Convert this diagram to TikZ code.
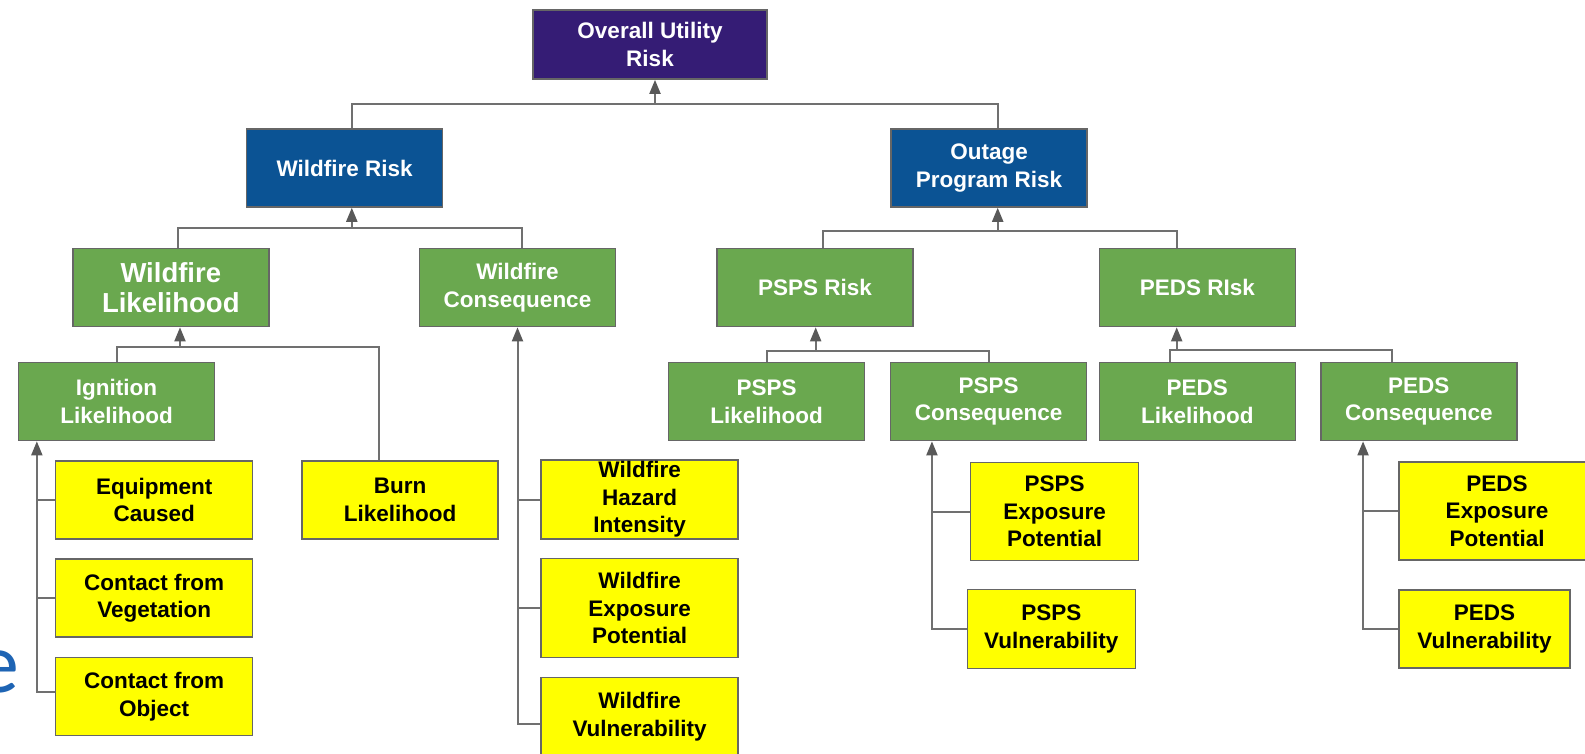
\documentclass[tikz,border=0pt]{standalone}
\usepackage{xcolor}
\usepackage{fontspec}
\setmainfont{Liberation Sans}
\newfontfamily\slidefont{Carlito}
\usepackage{tikz}
\usetikzlibrary{arrows.meta}
\definecolor{topcolor}{HTML}{351C75}
\definecolor{riskcolor}{HTML}{0B5394}
\definecolor{partcolor}{HTML}{6AA84F}
\definecolor{leafcolor}{HTML}{FFFF00}
\definecolor{edgecolor}{HTML}{666666}
\definecolor{linkcolor}{HTML}{707070}
\definecolor{tipcolor}{HTML}{595959}
\definecolor{slidecolor}{HTML}{1E64B4}
\tikzset{
  riskbox/.style={draw=edgecolor, line width=1.5pt, rectangle, minimum width=196pt, minimum height=78pt, inner sep=0pt, align=center, font=\fontsize{22.5}{27.5}\selectfont\bfseries},
  topbox/.style={riskbox, fill=topcolor, text=white},
  mainbox/.style={riskbox, fill=riskcolor, text=white},
  partbox/.style={riskbox, fill=partcolor, text=white},
  leafbox/.style={riskbox, fill=leafcolor, text=black},
  link/.style={draw=linkcolor, line width=2pt},
  uplink/.style={link, -{Triangle[length=14pt, width=11pt, color=tipcolor]}},
}

\begin{document}
\begin{tikzpicture}[x=1pt, y=-1pt]%
\fill[white] (0,0) rectangle (1585,753);%
\useasboundingbox (0,0) rectangle (1585,753);%
\node[font=\slidefont\fontsize{86}{86}\selectfont, text=slidecolor, anchor=base east, inner sep=0pt] (slidetail) at (19.5,692) {e};%
\node[topbox, minimum width=234pt, minimum height=69pt] (overall) at (650,44.6) {Overall Utility\\Risk};%
\node[mainbox] (wrisk) at (344.6,168) {Wildfire Risk};%
\node[mainbox] (outage) at (989,168) {Outage\\Program Risk};%
\node[partbox, font=\fontsize{27.5}{30}\selectfont\bfseries] (wlike) at (170.8,287.6) {Wildfire\\Likelihood};%
\node[partbox] (wcons) at (517.5,287.6) {Wildfire\\Consequence};%
\node[partbox] (pspsrisk) at (815,287.6) {PSPS Risk};%
\node[partbox] (pedsrisk) at (1197.3,287.6) {PEDS RIsk};%
\node[partbox] (ign) at (116.6,401.6) {Ignition\\Likelihood};%
\node[partbox] (pspslike) at (766.6,401.6) {PSPS\\Likelihood};%
\node[partbox] (pspscons) at (988.7,401.6) {PSPS\\Consequence};%
\node[partbox] (pedslike) at (1197.3,401.6) {PEDS\\Likelihood};%
\node[partbox] (pedscons) at (1418.8,401.6) {PEDS\\Consequence};%
\node[leafbox, minimum width=197pt] (equip) at (154.2,499.8) {Equipment\\Caused};%
\node[leafbox, minimum width=197pt] (vege) at (154.2,598) {Contact from\\Vegetation};%
\node[leafbox, minimum width=197pt] (object) at (154.2,696.5) {Contact from\\Object};%
\node[leafbox] (burn) at (400,499.8) {Burn\\Likelihood};%
\node[leafbox, minimum width=197pt, minimum height=79pt] (whaz) at (639.6,499.5) {Wildfire\\Hazard\\Intensity};%
\node[leafbox, minimum width=197pt, minimum height=99pt] (wexp) at (639.6,608) {Wildfire\\Exposure\\Potential};%
\node[leafbox, minimum width=197pt, minimum height=79pt] (wvul) at (639.6,716.8) {Wildfire\\Vulnerability};%
\node[leafbox, minimum width=168pt, minimum height=98pt] (pspsexp) at (1054.7,511.5) {PSPS\\Exposure\\Potential};%
\node[leafbox, minimum width=168pt, minimum height=79pt] (pspsvul) at (1051.3,628.8) {PSPS\\Vulnerability};%
\node[leafbox, minimum width=196pt, minimum height=98pt] (pedsexp) at (1497,511.2) {PEDS\\Exposure\\Potential};%
\node[leafbox, minimum width=171pt] (pedsvul) at (1484.5,628.8) {PEDS\\Vulnerability};%
\coordinate (topbus) at (655,104.3);%
\draw[link] ([xshift=7pt]wrisk.north) |- (topbus);%
\draw[link] ([xshift=9pt]outage.north) |- (topbus);%
\draw[uplink] (topbus) -- (topbus |- overall.south);%
\coordinate (wbus) at (351.8,228.4);%
\draw[link] ([xshift=7pt]wlike.north) |- (wbus);%
\draw[link] ([xshift=4pt]wcons.north) |- (wbus);%
\draw[uplink] (wbus) -- (wbus |- wrisk.south);%
\coordinate (obus) at (997.7,231);%
\draw[link] ([xshift=8pt]pspsrisk.north) |- (obus);%
\draw[link] ([xshift=-20.6pt]pedsrisk.north) |- (obus);%
\draw[uplink] (obus) -- (obus |- outage.south);%
\coordinate (lbus) at (180,346.7);%
\draw[link] (ign.north) |- (lbus);%
\draw[link] ([xshift=-21pt]burn.north) |- (lbus);%
\draw[uplink] (lbus) -- (lbus |- wlike.south);%
\coordinate (pbus) at (815.7,350.7);%
\draw[link] (pspslike.north) |- (pbus);%
\draw[link] (pspscons.north) |- (pbus);%
\draw[uplink] (pbus) -- (pbus |- pspsrisk.south);%
\coordinate (dbus) at (1176.7,350);%
\draw[link] ([xshift=-27pt]pedslike.north) |- (dbus);%
\draw[link] ([xshift=-27pt]pedscons.north) |- (dbus);%
\draw[uplink] (dbus) -- (dbus |- pedsrisk.south);%
\coordinate (ispine) at ([xshift=19pt]ign.south west);%
\draw[uplink] ([yshift=5pt]object.west) -| (ispine);%
\draw[link] (equip.west) -- (equip.west -| ispine);%
\draw[link] (vege.west) -- (vege.west -| ispine);%
\draw[uplink] ([yshift=-7pt]wvul.west) -| (wcons.south);%
\draw[link] (whaz.west) -- (whaz.west -| wcons.south);%
\draw[link] (wexp.west) -- (wexp.west -| wcons.south);%
\coordinate (cspine) at ([xshift=42pt]pspscons.south west);%
\draw[uplink] (pspsvul.west) -| (cspine);%
\draw[link] (pspsexp.west) -- (pspsexp.west -| cspine);%
\coordinate (dspine) at ([xshift=43pt]pedscons.south west);%
\draw[uplink] (pedsvul.west) -| (dspine);%
\draw[link] (pedsexp.west) -- (pedsexp.west -| dspine);%
\end{tikzpicture}
\end{document}
